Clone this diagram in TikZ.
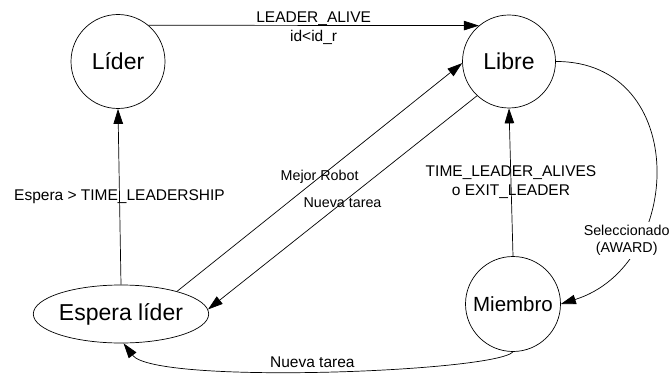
\documentclass[tikz,border=0pt]{standalone}
\usepackage{fontspec}
\setmainfont{Liberation Sans}
\usetikzlibrary{arrows.meta, shapes.geometric}
\tikzset{
  state node/.style={
    draw,
    line width=0.7pt,
    inner sep=0pt,
    align=center,
    font=\fontsize{23}{26}\selectfont,
  },
  big label/.style={
    inner sep=0pt,
    align=center,
    font=\fontsize{15.5}{19}\selectfont,
  },
  small label/.style={
    inner sep=0pt,
    align=center,
    font=\fontsize{14.3}{17}\selectfont,
  },
  trans/.style={
    line width=0.7pt,
    -{Triangle[length=15pt, width=9.5pt]},
  },
}

\begin{document}
\begin{tikzpicture}[x=1pt, y=-1pt]
      \useasboundingbox (0,0) rectangle (671,374);

      \node[state node, circle, minimum size=94pt] (lider)   at (118,61.5) {Líder};
      \node[state node, circle, minimum size=93pt] (libre)   at (509,61.5) {Libre};
      \node[state node, circle, minimum size=95pt, font=\fontsize{20.5}{24}\selectfont] (miembro) at (513,304) {Miembro};
      \node[state node, ellipse, minimum width=150pt, minimum height=58pt] (espera) at (121,314) {Espera líder};

      \draw[trans] (lider.50) -- node[big label, above=-1pt] {LEADER\_ALIVE} node[big label, below=4pt] {id<id\_r} (libre.130);
      \draw[trans] (espera.north) -- node[big label] {Espera > TIME\_LEADERSHIP} (lider.south);
      \draw[trans] (espera.22) -- node[small label] {Mejor Robot} (libre.182);
      \draw[trans] (libre.227) -- node[small label] {Nueva tarea} (espera.3);
      \draw[trans] (miembro.north) -- node[big label] {TIME\_LEADER\_ALIVES\\o EXIT\_LEADER} (libre.south);
      \draw[trans] (libre.east) .. controls (690,61) and (685,265) .. node[small label, pos=0.72, fill=white, inner sep=3pt, xshift=-10pt] {Seleccionado\\(AWARD)} (miembro.east);
      \draw[trans] (miembro.south) .. controls (495,372) and (155,385) .. node[big label, pos=0.52, above=3pt] {Nueva tarea} (espera.-85);
    \end{tikzpicture}
\end{document}
